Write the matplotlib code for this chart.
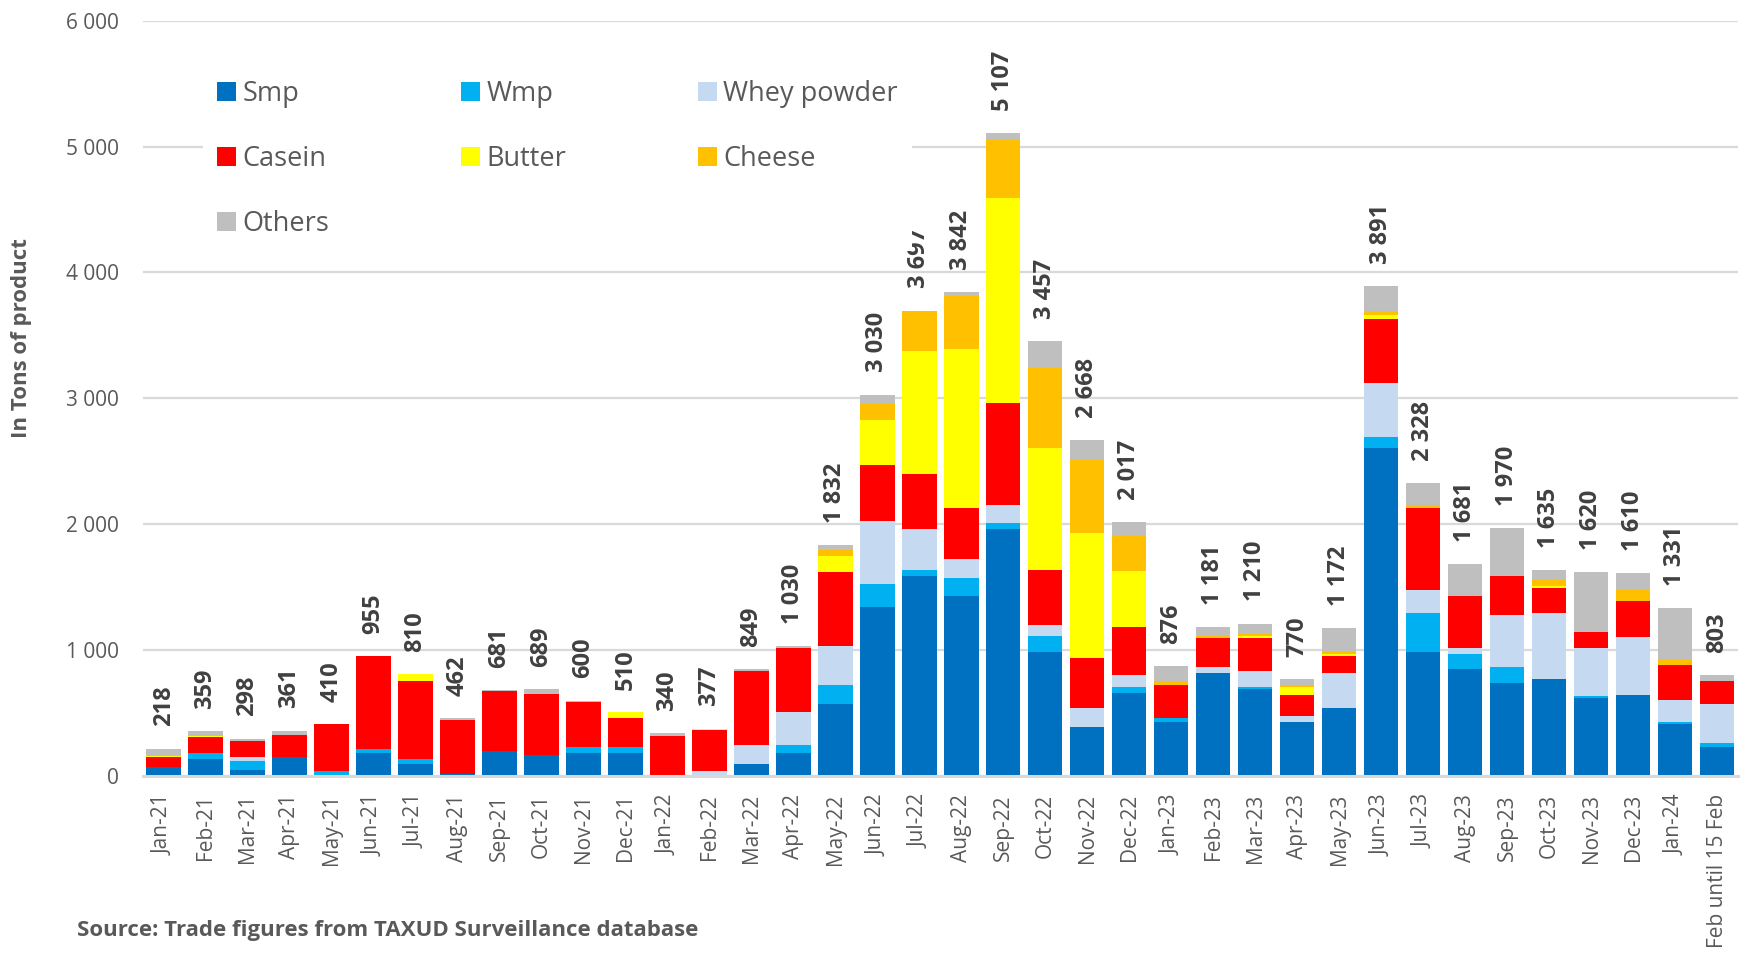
"""
Stacked monthly bar chart of dairy imports (tons of product), Jan-21 to mid Feb-24.

Output:
- out.png
"""

from __future__ import annotations

import matplotlib.pyplot as plt
import numpy as np

MONTHS = [
    "Jan-21", "Feb-21", "Mar-21", "Apr-21", "May-21", "Jun-21", "Jul-21",
    "Aug-21", "Sep-21", "Oct-21", "Nov-21", "Dec-21", "Jan-22", "Feb-22",
    "Mar-22", "Apr-22", "May-22", "Jun-22", "Jul-22", "Aug-22", "Sep-22",
    "Oct-22", "Nov-22", "Dec-22", "Jan-23", "Feb-23", "Mar-23", "Apr-23",
    "May-23", "Jun-23", "Jul-23", "Aug-23", "Sep-23", "Oct-23", "Nov-23",
    "Dec-23", "Jan-24", "Feb until 15 Feb",
]

SMP = [69, 132, 50, 148, 8, 180, 98, 19, 198, 164, 180, 180, 3, 0, 98, 180,
       574, 1344, 1590, 1429, 1960, 987, 392, 656, 426, 820, 693, 426, 540,
       2608, 987, 854, 741, 770, 622, 640, 410, 233]
WMP = [0, 53, 66, 0, 29, 34, 34, 0, 0, 0, 50, 50, 0, 0, 0, 66,
       148, 180, 50, 142, 49, 127, 0, 50, 37, 0, 16, 0, 0,
       85, 309, 117, 127, 0, 16, 0, 19, 32]
WHEY = [0, 0, 32, 0, 0, 0, 0, 0, 0, 0, 0, 0, 0, 37, 148, 265,
        312, 504, 323, 151, 147, 84, 150, 98, 0, 48, 127, 50, 280,
        426, 180, 48, 412, 526, 381, 461, 177, 309]
CASEIN = [79, 125, 132, 180, 373, 738, 622, 425, 477, 489, 360, 230, 312, 325, 590, 508,
          590, 440, 440, 406, 805, 442, 395, 379, 262, 230, 262, 164, 135,
          508, 656, 410, 310, 199, 129, 291, 278, 183]
BUTTER = [12, 8, 0, 0, 0, 0, 53, 0, 0, 0, 0, 45, 0, 8, 0, 0,
          121, 363, 970, 1262, 1628, 964, 992, 444, 0, 0, 18, 69, 16,
          34, 0, 0, 0, 16, 0, 0, 0, 0]
CHEESE = [0, 0, 0, 0, 0, 0, 0, 0, 0, 0, 0, 0, 0, 0, 0, 0,
          52, 133, 324, 425, 474, 638, 590, 282, 29, 18, 16, 13, 16,
          32, 21, 0, 0, 47, 0, 87, 37, 0]
OTHERS = [58, 41, 18, 33, 0, 3, 3, 18, 6, 36, 10, 5, 25, 7, 13, 11,
          35, 66, 0, 27, 44, 215, 149, 108, 122, 65, 78, 48, 185,
          198, 175, 252, 380, 77, 472, 131, 410, 46]

SERIES = ["Smp", "Wmp", "Whey powder", "Casein", "Butter", "Cheese", "Others"]
COLORS = ["#0070C0", "#00B0F0", "#C5D9F1", "#FF0000", "#FFFF00", "#FFC000", "#BFBFBF"]

TEXT_GREY = "#595959"
LABEL_GREY = "#404040"
GRID_GREY = "#D9D9D9"


def fmt_thousands(value: float) -> str:
    return f"{int(round(value)):,}".replace(",", " ")


def main() -> None:
    plt.rcParams["font.family"] = ["Open Sans", "DejaVu Sans"]

    data = [SMP, WMP, WHEY, CASEIN, BUTTER, CHEESE, OTHERS]
    x = np.arange(len(MONTHS))

    fig = plt.figure(figsize=(17.45, 9.55), dpi=100)
    ax = fig.add_axes([0.0817, 0.1874, 0.9143, 0.7909])

    bottom = np.zeros(len(MONTHS))
    handles = []
    for name, values, color in zip(SERIES, data, COLORS):
        values = np.asarray(values, dtype=float)
        bars = ax.bar(x, values, width=0.82, bottom=bottom, color=color,
                      label=name, linewidth=0, zorder=2)
        handles.append(bars)
        bottom += values

    totals = bottom
    for xi, total in zip(x, totals):
        ax.annotate(fmt_thousands(total), (xi, total), xytext=(0, 16),
                    textcoords="offset points", rotation=90, ha="center",
                    va="bottom", fontsize=17, fontweight="bold",
                    color=LABEL_GREY, zorder=3)

    ax.set_xlim(-0.5, len(MONTHS) - 0.5)
    ax.set_ylim(0, 6000)
    ax.set_yticks(np.arange(0, 6001, 1000))
    ax.set_yticklabels([fmt_thousands(v) for v in np.arange(0, 6001, 1000)])
    ax.set_xticks(x)
    ax.set_xticklabels(MONTHS, rotation=90)
    ax.tick_params(axis="x", length=0, pad=13, labelsize=15, labelcolor=TEXT_GREY)
    ax.tick_params(axis="y", length=0, pad=17, labelsize=15, labelcolor=TEXT_GREY)

    ax.grid(axis="y", color=GRID_GREY, linewidth=1.6, zorder=0)
    ax.set_axisbelow(True)
    for side in ["top", "right", "left"]:
        ax.spines[side].set_visible(False)
    ax.spines["bottom"].set_color(GRID_GREY)
    ax.spines["bottom"].set_linewidth(2.2)

    # legend entries reordered so the column-major fill reads row by row
    order = [0, 3, 6, 1, 4, 2, 5]
    leg = ax.legend(
        [handles[i] for i in order], [SERIES[i] for i in order],
        ncol=3, loc="upper left", bbox_to_anchor=(0.1087, 0.9444),
        bbox_transform=fig.transFigure, fontsize=19.5, frameon=True,
        facecolor="white", edgecolor="none", framealpha=1.0, fancybox=False,
        handlelength=0.7, handleheight=0.7, handletextpad=0.25,
        columnspacing=4.85, labelspacing=1.36, borderpad=0.5,
    )
    for text in leg.get_texts():
        text.set_color(TEXT_GREY)

    fig.text(22 / 1745, 1 - 338 / 955, "In Tons of product", rotation=90,
             ha="center", va="center", fontsize=16, fontweight="bold",
             color=TEXT_GREY)
    fig.text(77 / 1745, 1 - 930 / 955,
             "Source: Trade figures from TAXUD Surveillance database",
             ha="left", va="center", fontsize=16, fontweight="bold",
             color=TEXT_GREY)

    fig.savefig("out.png", dpi=100)
    plt.close(fig)


if __name__ == "__main__":
    main()
